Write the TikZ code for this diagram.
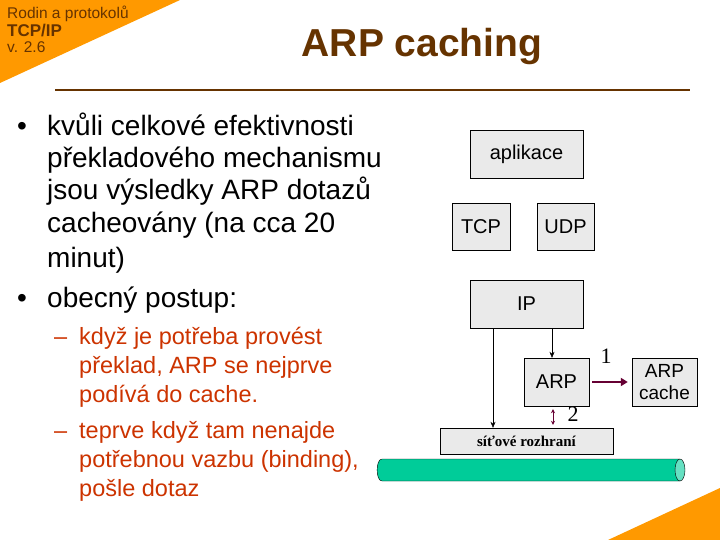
\documentclass[tikz,border=0pt]{standalone}
\usepackage{fontspec}
\setmainfont{Liberation Sans}
\newfontfamily\serifz{Liberation Serif}
\usetikzlibrary{arrows.meta,shapes.geometric}
\definecolor{orng}{HTML}{FF9900}
\definecolor{brn}{HTML}{663300}
\definecolor{redo}{HTML}{CC3300}
\definecolor{wine}{HTML}{660033}
\definecolor{boxg}{HTML}{EAEAEA}
\definecolor{cyl}{HTML}{00CC99}
\begin{document}
\begin{tikzpicture}[x=1pt,y=-1pt,
  layer/.style={draw=black,fill=boxg,inner sep=0pt,font=\fontsize{20}{22}\selectfont,align=center},
  bul/.style={anchor=base west,inner sep=0pt,font=\fontsize{28}{32}\selectfont},
  sub/.style={anchor=base west,inner sep=0pt,text=redo,font=\fontsize{23.5}{27}\selectfont},
  arr/.style={-{Stealth[length=6pt,width=5pt]},thin}]
\useasboundingbox (0,0) rectangle (720,540);
\fill[orng] (0,0) -- (180,0) -- (0,83) -- cycle;
\fill[orng] (720,488) -- (720,540) -- (608,540) -- cycle;
\node[anchor=west,inner sep=0pt,text=brn,font=\fontsize{15.5}{17}\selectfont] (h1) at (7,14) {Rodin a protokolů};
\node[anchor=west,inner sep=0pt,text=brn,font=\fontsize{17}{19}\bfseries] (h2) at (7,31) {TCP/IP};
\node[anchor=west,inner sep=0pt,text=brn,font=\fontsize{15.5}{17}\selectfont] (h3) at (7,47) {v. 2.6};
\node[text=brn,font=\fontsize{39}{42}\bfseries] (title) at (422,47) {ARP caching};
\draw[brn,line width=1.5pt] (55,90) -- (690,90);
\node[bul] (b1) at (17,136) {•};
\node[bul] (t1) at (47,136) {kvůli celkové efektivnosti};
\node[bul] (t2) at (47,168) {překladového mechanismu};
\node[bul] (t3) at (47,200) {jsou výsledky ARP dotazů};
\node[bul] (t4) at (47,233) {cacheovány (na cca 20};
\node[bul] (t5) at (47,267) {minut)};
\node[bul] (b2) at (17,307) {•};
\node[bul] (t6) at (47,307) {obecný postup:};
\node[sub] (d1) at (54,344) {–};
\node[sub] (s1) at (79,344) {když je potřeba provést};
\node[sub] (s2) at (79,373) {překlad, ARP se nejprve};
\node[sub] (s3) at (79,402) {podívá do cache.};
\node[sub] (d2) at (54,438) {–};
\node[sub] (s4) at (79,438) {teprve když tam nenajde};
\node[sub] (s5) at (79,467) {potřebnou vazbu (binding),};
\node[sub] (s6) at (79,496) {pošle dotaz};
\node[layer,minimum width=113pt,minimum height=48pt] (app) at (526.5,154) {aplikace};
\node[layer,minimum width=58pt,minimum height=47pt] (tcp) at (481,226.5) {TCP};
\node[layer,minimum width=57pt,minimum height=47pt] (udp) at (565.5,226.5) {UDP};
\node[layer,minimum width=113pt,minimum height=48pt] (ip) at (526.5,304) {IP};
\node[layer,minimum width=65pt,minimum height=48pt] (arp) at (556.5,382) {ARP};
\node[layer,minimum width=65pt,minimum height=48pt,font=\fontsize{19}{21.5}\selectfont] (cache) at (664.5,382) {ARP\\cache};
\node[layer,minimum width=173pt,minimum height=26pt,font=\serifz\fontsize{15}{17}\bfseries] (net) at (526.5,441) {síťové rozhraní};
\draw[fill=cyl] (382,459) -- (680,459) -- (680,481) -- (382,481) .. controls (375.5,481) and (375.5,459) .. (382,459) -- cycle;
\draw[fill=cyl!60] (680,470) ellipse[x radius=5,y radius=11];
\draw[arr] (ip.south -| 493,0) -- (net.north -| 493,0);
\draw[arr] (ip.south -| 552,0) -- (arp.north -| 552,0);
\draw[wine,line width=2.5pt,-{Triangle[length=7pt,width=8pt]}] (arp.east) ++(3,0) -- ([xshift=-4pt]cache.west);
\draw[wine,{Stealth[length=4pt,width=4pt]}-{Stealth[length=4pt,width=4pt]},line width=0.8pt] ([yshift=-3pt]arp.south -| 553,0) -- ([yshift=3pt]net.north -| 553,0);
\node[font=\serifz\fontsize{22}{24}\selectfont,inner sep=0pt] (n1) at (606,356) {1};
\node[font=\serifz\fontsize{22}{24}\selectfont,inner sep=0pt] (n2) at (573,414) {2};
\end{tikzpicture}
\end{document}
